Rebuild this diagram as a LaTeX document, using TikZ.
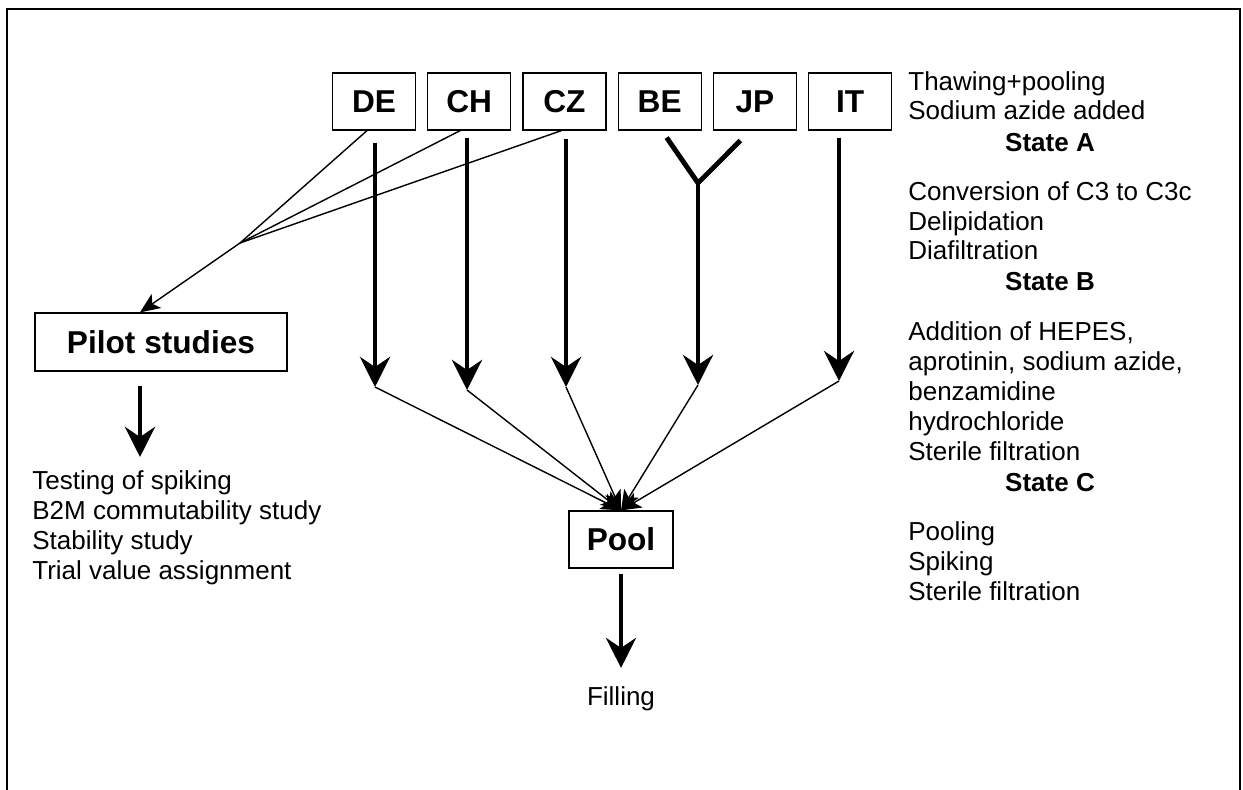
\documentclass[tikz,border=0pt]{standalone}
\usepackage{fontspec}
\setmainfont{Liberation Sans}
\usetikzlibrary{arrows.meta, positioning}
\newcommand{\listfont}{\fontsize{14.8}{17.07}\selectfont}
\newcommand{\boxlabelfont}{\fontsize{18}{21}\selectfont\bfseries}

\begin{document}
\begin{tikzpicture}[x=0.02cm, y=-0.02cm,
    cbox/.style={draw, line width=0.7pt, minimum width=1.66cm, minimum height=1.14cm,
                 inner sep=0pt, font=\boxlabelfont},
    fat/.style={line width=2.8pt},
    fatarrow/.style={line width=2.8pt, -{Stealth[length=0.6cm, width=0.6cm, inset=0.2cm]}},
    thinline/.style={line width=0.8pt},
    thinarrow/.style={line width=0.8pt, -{Stealth[length=0.4cm, width=0.34cm, inset=0.1cm]}},
    note/.style={font=\listfont, align=left, inner sep=0pt, anchor=base west},
    state/.style={font=\listfont\bfseries, inner sep=0pt, anchor=base}]
  \useasboundingbox (0,0) rectangle (1243,790);
  % frame, open at the bottom
  \draw[line width=0.7pt] (7,790) -- (7,9) -- (1240,9) -- (1240,790);

  % countries
  \node[cbox] (de) at (374,101.5) {DE};
  \node[cbox, right=0.22cm of de] (ch) {CH};
  \node[cbox, right=0.22cm of ch] (cz) {CZ};
  \node[cbox, right=0.22cm of cz] (be) {BE};
  \node[cbox, right=0.22cm of be] (jp) {JP};
  \node[cbox, right=0.22cm of jp] (it) {IT};

  \node[cbox, minimum width=5.04cm, minimum height=1.16cm] (pilot) at (161,342) {Pilot studies};
  \node[cbox, minimum width=2.08cm] (pool) at (621,539.5) {Pool};

  % where the lines meet
  \coordinate (fork) at (240,243);
  \coordinate (yjoin) at (698,183);
  \coordinate (tipde) at (375,387);
  \coordinate (tipch) at (467,390);
  \coordinate (tipcz) at (566,387);
  \coordinate (tipbj) at (698,385);
  \coordinate (tipit) at (839,381);
  \coordinate (pilottip) at (140,457);

  % process steps on the right (placed by their last line)
  \node[note] (thaw) at (908,120) {Thawing+pooling\\Sodium azide added};
  \node[state] (sta) at (1050,152) {State A};
  \node[note] (conv) at (908,260) {Conversion of C3 to C3c\\Delipidation\\Diafiltration};
  \node[state] (stb) at (1050,291) {State B};
  \node[note] (addn) at (908,460)
    {Addition of HEPES,\\aprotinin, sodium azide,\\benzamidine\\hydrochloride\\Sterile filtration};
  \node[state] (stc) at (1050,491) {State C};
  \node[note] (pooling) at (908,600) {Pooling\\Spiking\\Sterile filtration};

  \node[note] (tests) at (32,579)
    {Testing of spiking\\B2M commutability study\\Stability study\\Trial value assignment};
  \node[font=\listfont, anchor=base] (fill) at (621,705) {Filling};

  % pilot branch
  \draw[thinline] ([xshift=-0.14cm]de.south) -- (fork);
  \draw[thinline] ([xshift=-0.18cm]ch.south) -- (fork);
  \draw[thinline] ([xshift=-0.06cm]cz.south) -- (fork);
  \draw[thinarrow] (fork) -- ([xshift=-0.42cm]pilot.north);
  \draw[fatarrow] ([yshift=-0.28cm]pilottip |- pilot.south) -- (pilottip);

  % main branches
  \draw[fatarrow] ([yshift=-0.24cm]tipde |- de.south) -- (tipde);
  \draw[fatarrow] ([yshift=-0.14cm]tipch |- ch.south) -- (tipch);
  \draw[fatarrow] ([yshift=-0.16cm]tipcz |- cz.south) -- (tipcz);
  \draw[fat] ([xshift=0.14cm, yshift=-0.14cm]be.south) -- (yjoin)
    -- ([xshift=-0.29cm, yshift=-0.2cm]jp.south);
  \draw[fatarrow] (yjoin) -- (tipbj);
  \draw[fatarrow] ([yshift=-0.14cm]tipit |- it.south) -- (tipit);

  \draw[thinarrow] (tipde) -- (pool.north);
  \draw[thinarrow] (tipch) -- (pool.north);
  \draw[thinarrow] (tipcz) -- (pool.north);
  \draw[thinarrow] (tipbj) -- (pool.north);
  \draw[thinarrow] (tipit) -- (pool.north);

  \draw[fatarrow] ([yshift=-0.1cm]pool.south) -- ([yshift=0.24cm]fill.north);
\end{tikzpicture}
\end{document}
